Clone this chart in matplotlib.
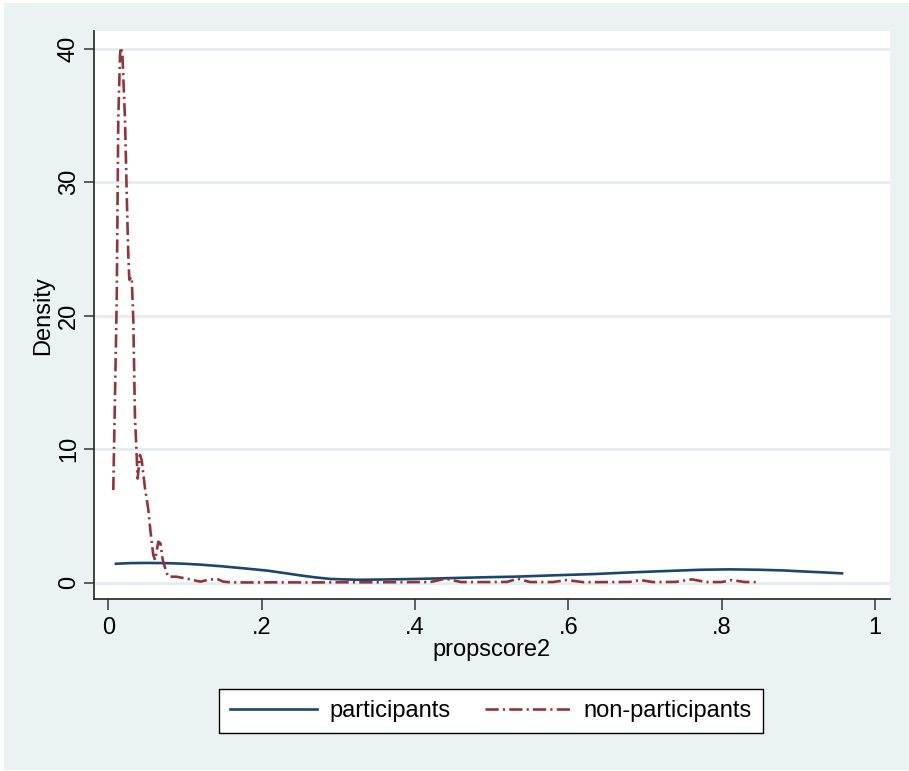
# Kerndichte der propensity scores: participants vs. non-participants (Stata s2color look)
import numpy as np
import matplotlib.pyplot as plt
from matplotlib.patches import Rectangle

plt.rcParams['font.family'] = ['Liberation Sans', 'DejaVu Sans']

# participants (durchgezogene Linie)
x_part = [0.010, 0.030, 0.050, 0.073, 0.100, 0.121, 0.150, 0.180, 0.208, 0.230,
          0.250, 0.270, 0.290, 0.325, 0.360, 0.400, 0.450, 0.500, 0.529, 0.580,
          0.634, 0.680, 0.730, 0.773, 0.810, 0.849, 0.880, 0.907, 0.930, 0.957]
y_part = [1.42, 1.47, 1.48, 1.47, 1.42, 1.35, 1.22, 1.06, 0.90, 0.72,
          0.55, 0.40, 0.28, 0.22, 0.24, 0.28, 0.35, 0.42, 0.45, 0.55,
          0.65, 0.77, 0.88, 0.97, 1.00, 0.97, 0.92, 0.84, 0.78, 0.70]

# non-participants (Strich-Punkt-Linie)
x_non = [0.0065, 0.011, 0.013, 0.0153, 0.0162, 0.0183, 0.0218, 0.024, 0.026, 0.0274,
         0.0305, 0.0326, 0.0335, 0.0348, 0.037, 0.0383, 0.0413, 0.0435, 0.0479, 0.052,
         0.0553, 0.0587, 0.061, 0.0652, 0.068, 0.071, 0.075, 0.078, 0.089, 0.1066,
         0.120, 0.1326, 0.143, 0.150, 0.160, 0.180, 0.220, 0.260, 0.300, 0.340,
         0.380, 0.420, 0.440, 0.460, 0.500, 0.520, 0.534, 0.550, 0.580, 0.598,
         0.620, 0.660, 0.680, 0.694, 0.710, 0.740, 0.761, 0.780, 0.800, 0.8135,
         0.830, 0.846]
y_non = [6.94, 21.2, 34.7, 39.5, 40.1, 39.7, 34.7, 29.2, 24.7, 22.7,
         22.9, 19.7, 16.7, 12.4, 9.57, 7.8, 9.57, 9.2, 7.07, 5.57,
         3.7, 2.07, 1.7, 3.07, 2.95, 1.7, 0.95, 0.45, 0.45, 0.25,
         0.08, 0.25, 0.25, 0.08, 0.03, 0.02, 0.03, 0.02, 0.03, 0.03,
         0.04, 0.05, 0.30, 0.05, 0.05, 0.06, 0.30, 0.05, 0.05, 0.20,
         0.04, 0.05, 0.06, 0.20, 0.05, 0.06, 0.25, 0.05, 0.05, 0.20,
         0.05, 0.05]

xticks = [0, 0.2, 0.4, 0.6, 0.8, 1]
xtick_labels = ['0', '.2', '.4', '.6', '.8', '1']
yticks = [0, 10, 20, 30, 40]

blue = '#1A476F'
red = '#90353B'
bg = '#EAF2F3'
fs = 17

fig = plt.figure(figsize=(9.09, 7.71), dpi=100)
fig.patch.set_facecolor('white')
fig.patches.append(Rectangle((4/909, 1/771), 905/909, 767/771, transform=fig.transFigure,
                             facecolor=bg, edgecolor='none', zorder=-10))

ax = fig.add_axes([94/909, (771-599.3)/771, (890-94)/909, (599.3-31)/771])
ax.set_facecolor('white')

ax.plot(x_part, y_part, color=blue, lw=1.9, label='participants')
ax.plot(x_non, y_non, color=red, lw=1.9, dashes=(5, 1.6, 0.8, 1.6),
        label='non-participants')

ax.set_xlim(-0.01865, 1.0196)
ax.set_ylim(-1.243, 41.33)
ax.set_xticks(xticks)
ax.set_xticklabels(xtick_labels)
ax.set_yticks(yticks)
ax.yaxis.grid(True, color='#E3ECEF', lw=2.0)
ax.set_axisbelow(True)

for s in ['top', 'right']:
    ax.spines[s].set_visible(False)
for s in ['left', 'bottom']:
    ax.spines[s].set_color('#222222')
    ax.spines[s].set_linewidth(1.2)

ax.tick_params(axis='x', length=8, width=1.2, color='#444444', pad=4.5, labelsize=fs)
ax.tick_params(axis='y', length=7.2, width=1.2, color='#444444', pad=3, labelsize=fs,
               labelrotation=90)
for lab in ax.get_yticklabels():
    lab.set_va('center')

ax.set_xlabel('propscore2', fontsize=fs, labelpad=0)
ax.set_ylabel('Density', fontsize=fs, labelpad=3)

leg = ax.legend(loc='center', bbox_to_anchor=(491/909, (771-711)/771),
                bbox_transform=fig.transFigure, ncol=2, fontsize=fs,
                handlelength=3.7, handletextpad=0.5, columnspacing=1.45,
                borderpad=0.45, fancybox=False, framealpha=1, edgecolor='black')
leg.get_frame().set_linewidth(1.0)

fig.savefig('out.png', dpi=100)
